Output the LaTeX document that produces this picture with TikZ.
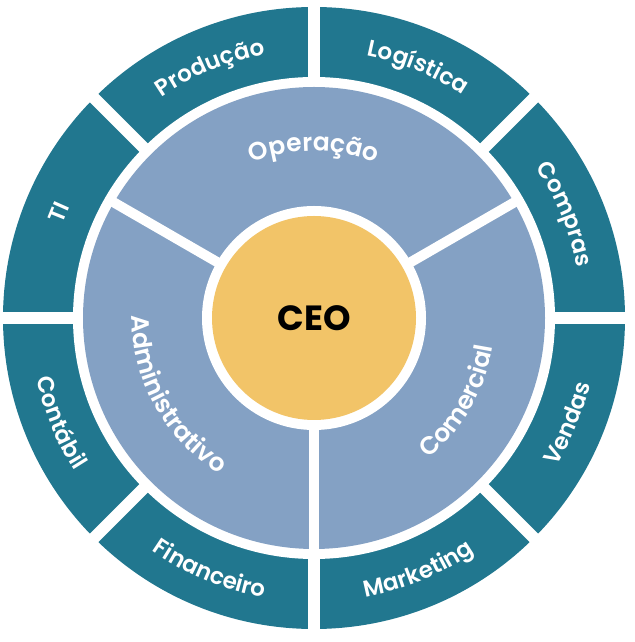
\documentclass[tikz,border=0pt]{standalone}
\usepackage{fontspec}
\setmainfont{Poppins}
\newfontfamily\lblfont{Poppins SemiBold}
\newfontfamily\ceofont{Poppins Bold}
\usetikzlibrary{decorations.text}
\definecolor{tealring}{RGB}{33,119,143}
\definecolor{bluering}{RGB}{132,161,196}
\definecolor{goldcore}{RGB}{242,196,104}
\newcommand\outstyle{\lblfont\fontsize{23}{23}\selectfont\color{white}}
\newcommand\midstyle{\lblfont\fontsize{25}{25}\selectfont\color{white}}
\newcommand\toparc[4]{\path[text=white,decorate,decoration={text along path,text align=center,text={|#4|#3}}] (#1+55:#2) arc[start angle=#1+55,end angle=#1-55,radius=#2];}
\newcommand\botarc[4]{\path[text=white,decorate,decoration={text along path,text align=center,text={|#4|#3}}] (#1-55:#2) arc[start angle=#1-55,end angle=#1+55,radius=#2];}
\tikzset{
  midgap/.style={white,line width=10pt},
  outgap/.style={white,line width=12pt},
  ceolabel/.style={font=\ceofont\fontsize{35}{35}\selectfont,text=black}
}
\begin{document}
\begin{tikzpicture}
\useasboundingbox (0,0) rectangle (634pt,642pt);
\begin{scope}[shift={(314pt,324pt)}]
\fill[tealring] (0,0) circle[radius=311pt];
\fill[white] (0,0) circle[radius=241pt];
\fill[bluering] (0,0) circle[radius=231pt];
\foreach \a in {30,150,270} \draw[midgap] (0,0) -- (\a:236pt);
\foreach \a in {0,45,...,315} \draw[outgap] (\a:236pt) -- (\a:320pt);
\fill[white] (0,0) circle[radius=112pt];
\fill[goldcore] (0,0) circle[radius=102pt];
\node[ceolabel] (ceo) at (0,0) {CEO};
% outer labels
\toparc{112.5}{268pt}{Produção}{\outstyle}
\toparc{67.5}{268pt}{Logística}{\outstyle}
\toparc{22.5}{268pt}{Compras}{\outstyle}
\toparc{157.5}{268pt}{TI}{\outstyle}
\botarc{-22.5}{284pt}{Vendas}{\outstyle}
\botarc{-67.5}{284pt}{Marketing}{\outstyle}
\botarc{-112.5}{284pt}{Financeiro}{\outstyle}
\botarc{-157.5}{284pt}{Contábil}{\outstyle}
% middle labels
\toparc{90}{167pt}{Operação}{\midstyle}
\botarc{-30}{181pt}{Comercial}{\midstyle}
\botarc{209}{182pt}{Administrativo}{\midstyle}
\end{scope}
\end{tikzpicture}
\end{document}
